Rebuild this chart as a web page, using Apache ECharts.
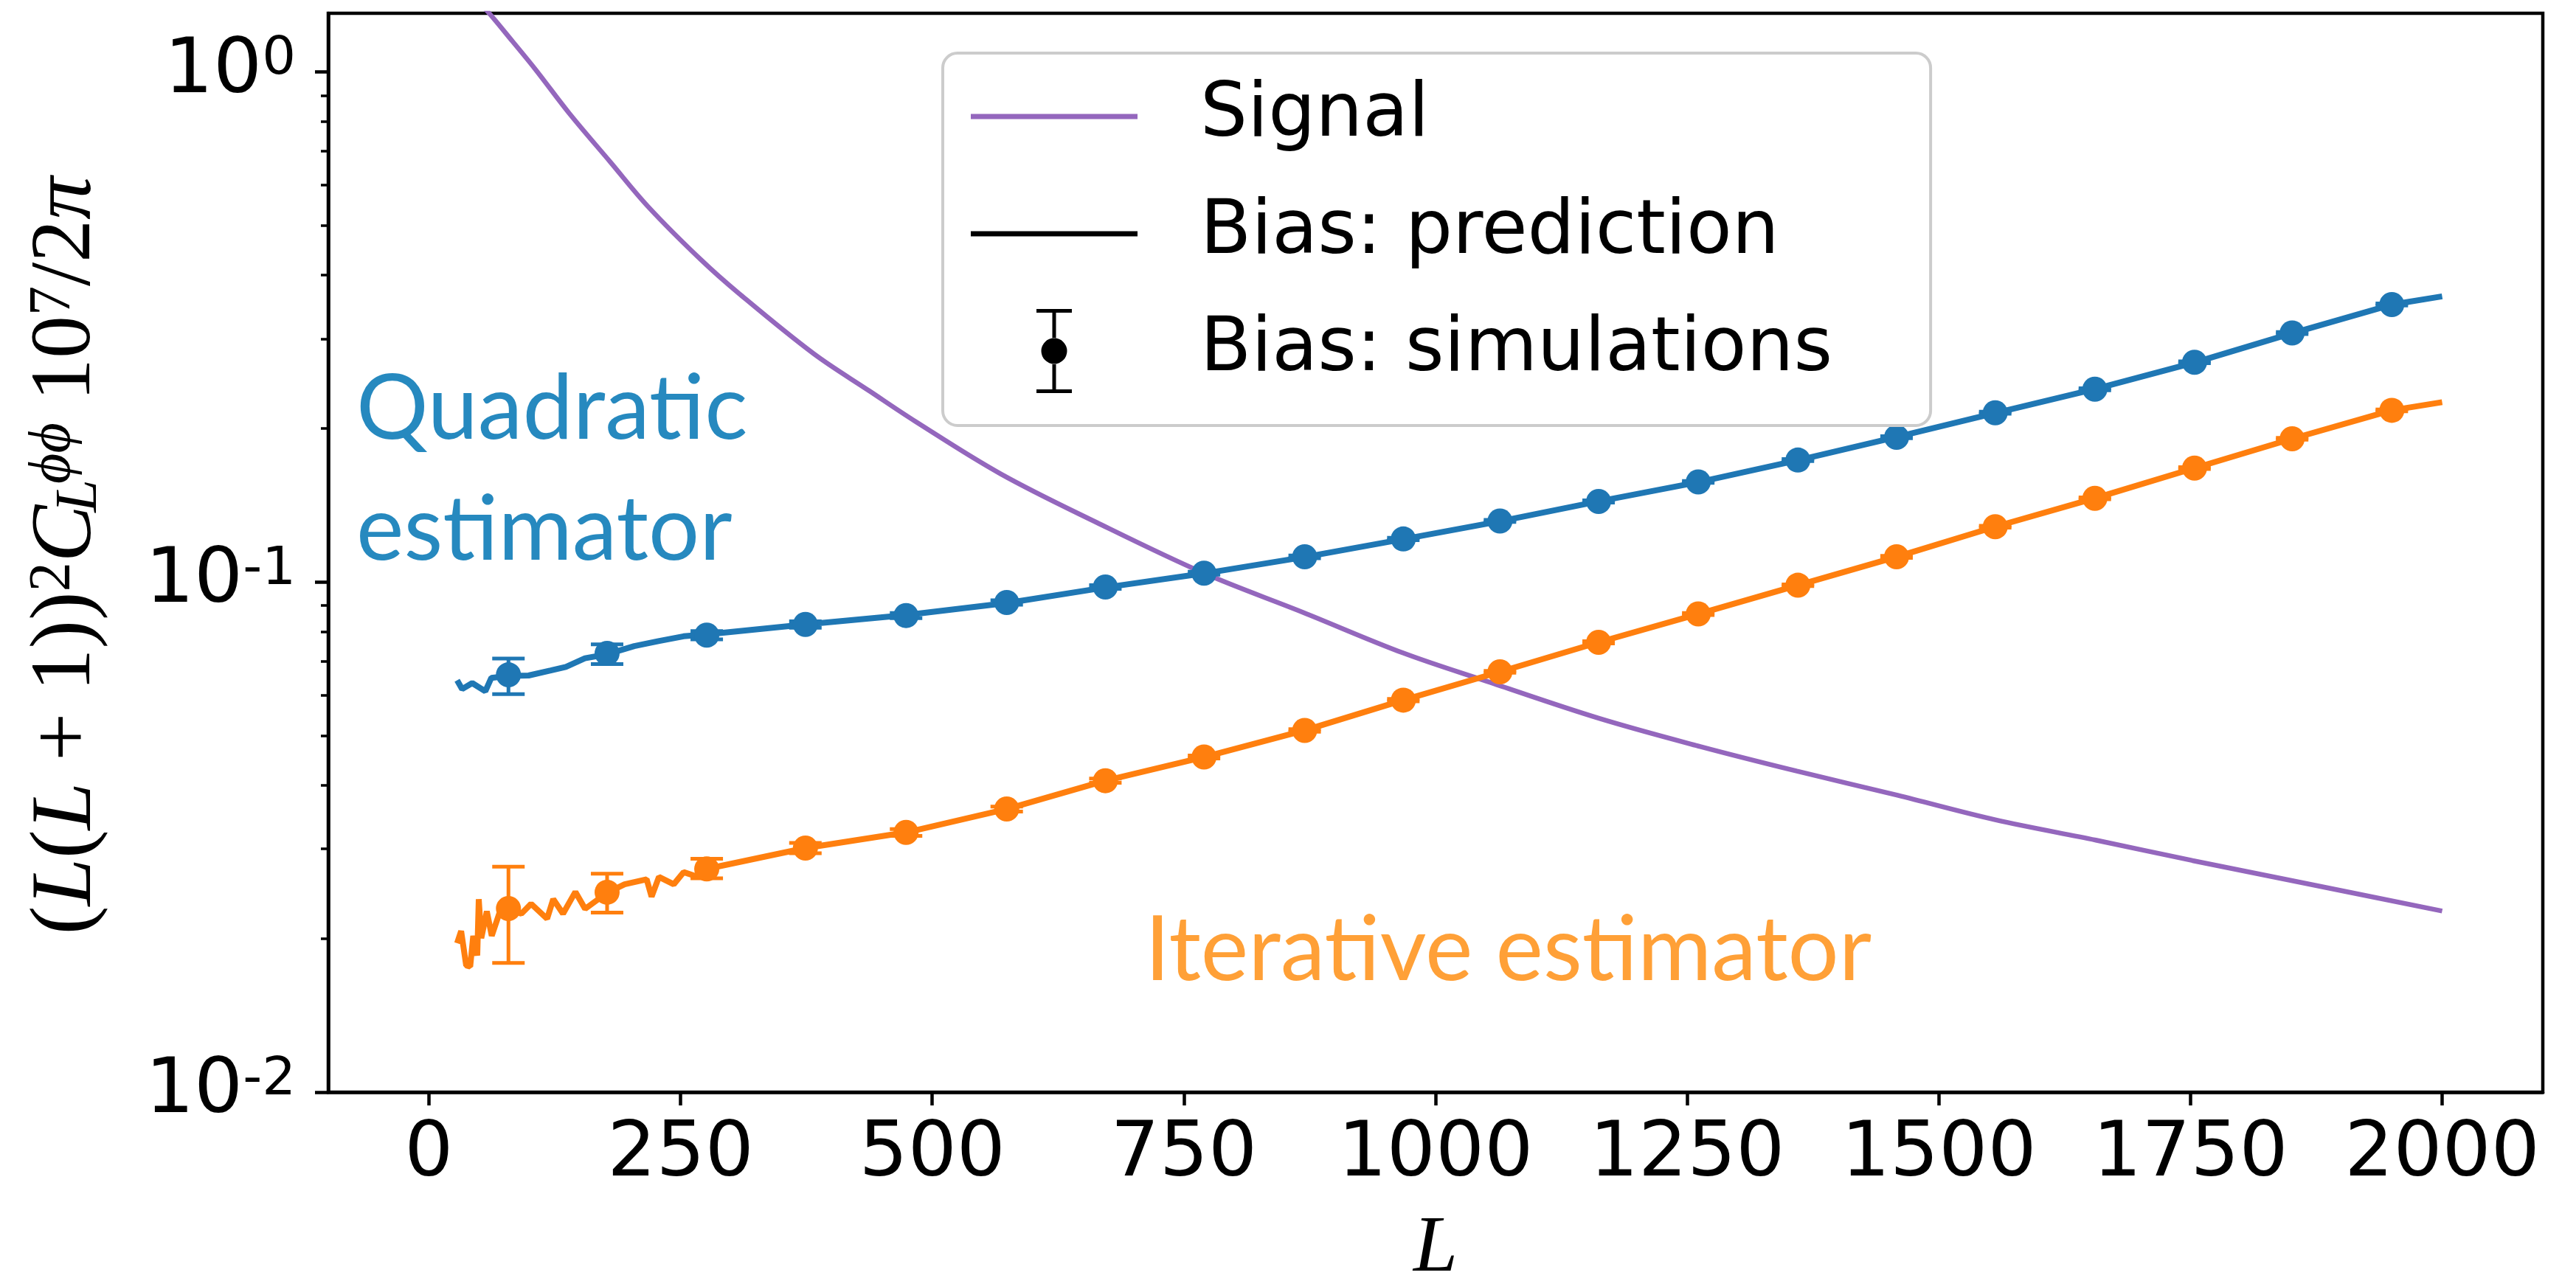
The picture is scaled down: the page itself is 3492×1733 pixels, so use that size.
<!DOCTYPE html>
<html>
<head>
<meta charset="utf-8">
<script src="https://cdn.jsdelivr.net/npm/echarts@6/dist/echarts.min.js"></script>
<style>
  html, body { margin: 0; padding: 0; background: #ffffff; }
  #chart { width: 3492px; height: 1733px; }
</style>
</head>
<body>
<div id="chart"></div>
<script>
// Lensing potential signal and reconstruction bias (quadratic vs iterative estimator)

// Signal: (L(L+1))^2 C_L^phiphi 1e7 / 2pi
const signalL = [45, 59, 83, 106, 139, 180, 218, 270, 308, 382, 438, 483, 568, 663, 770, 868, 968, 1051, 1162, 1263, 1359, 1459, 1556, 1656, 1752, 1852, 2000];
const signalV = [1.40, 1.31, 1.149, 1.011, 0.832, 0.667, 0.544, 0.429, 0.368, 0.2806, 0.2367, 0.2067, 0.163, 0.131, 0.1041, 0.0873, 0.0726, 0.0639, 0.0541, 0.0476, 0.0426, 0.0382, 0.0342, 0.0312, 0.02845, 0.02596, 0.02265];

// Predicted bias, quadratic estimator
const qePredL = [28, 33, 43, 56, 62, 79, 99, 121, 136, 155, 177, 204, 228, 253, 276, 374, 474, 574, 672, 770, 870, 968, 1064, 1162, 1261, 1360, 1458, 1556, 1655, 1754, 1851, 1950, 2000];
const qePredV = [0.0642, 0.0617, 0.0634, 0.0611, 0.0649, 0.0655, 0.0656, 0.0671, 0.0682, 0.0709, 0.0722, 0.0749, 0.0766, 0.0783, 0.0790, 0.0826, 0.0862, 0.0910, 0.0976, 0.1040, 0.1120, 0.1214, 0.1316, 0.1440, 0.1570, 0.1733, 0.1925, 0.2145, 0.2390, 0.2695, 0.3075, 0.3500, 0.3633];

// Predicted bias, iterative estimator
const itPredL = [28, 32, 37, 41, 44, 48, 49.5, 52, 57.5, 62.4, 69.8, 79.5, 91.8, 101.5, 117.4, 123.5, 133.2, 145.5, 155.2, 177, 194.4, 216.3, 221.2, 228.5, 243.2, 253, 267.6, 276, 374, 474, 574, 672, 770, 870, 968, 1064, 1162, 1261, 1360, 1458, 1556, 1655, 1754, 1851, 1950, 2000];
const itPredV = [0.01959, 0.0207, 0.01772, 0.01763, 0.02025, 0.01853, 0.0239, 0.02004, 0.02262, 0.02025, 0.02238, 0.0229, 0.02238, 0.0234, 0.02188, 0.0239, 0.02238, 0.0247, 0.02288, 0.0246, 0.02556, 0.02614, 0.02417, 0.02642, 0.02556, 0.0270, 0.02642, 0.0274, 0.0301, 0.0323, 0.0359, 0.0408, 0.0454, 0.0512, 0.0587, 0.0667, 0.0762, 0.0866, 0.0986, 0.1121, 0.1284, 0.1460, 0.1673, 0.1910, 0.2172, 0.2253];

// Bias measured on simulations (bin centres)
const simL = [79, 177, 276, 374, 474, 574, 672, 770, 870, 968, 1064, 1162, 1261, 1360, 1458, 1556, 1655, 1754, 1851, 1950];
const qeSim   = [0.0658, 0.0725, 0.0787, 0.0826, 0.0860, 0.0912, 0.0978, 0.1041, 0.1121, 0.1215, 0.1318, 0.1439, 0.1572, 0.1735, 0.1923, 0.2148, 0.2389, 0.2698, 0.3079, 0.3501];
const qeSimLo = [0.0603, 0.0691, 0.0772, 0.0814, 0.0850, 0.0903, 0.0970, 0.1034, 0.1114, 0.1208, 0.1312, 0.1432, 0.1565, 0.1727, 0.1914, 0.2138, 0.2378, 0.2686, 0.3065, 0.3485];
const qeSimHi = [0.0708, 0.0755, 0.0802, 0.0838, 0.0870, 0.0921, 0.0986, 0.1048, 0.1128, 0.1222, 0.1324, 0.1446, 0.1579, 0.1743, 0.1932, 0.2158, 0.2400, 0.2710, 0.3093, 0.3517];
const itSim   = [0.02291, 0.02466, 0.02739, 0.0301, 0.0323, 0.0359, 0.0408, 0.0454, 0.0512, 0.0587, 0.0667, 0.0762, 0.0866, 0.0986, 0.1121, 0.1284, 0.1460, 0.1673, 0.1910, 0.2172];
const itSimLo = [0.01792, 0.02250, 0.02625, 0.0294, 0.0318, 0.0355, 0.0404, 0.0451, 0.0509, 0.0584, 0.0664, 0.0758, 0.0862, 0.0982, 0.1116, 0.1279, 0.1454, 0.1666, 0.1902, 0.2163];
const itSimHi = [0.02768, 0.02681, 0.02868, 0.0308, 0.0328, 0.0363, 0.0412, 0.0457, 0.0515, 0.0590, 0.0670, 0.0766, 0.0870, 0.0990, 0.1126, 0.1289, 0.1466, 0.1680, 0.1918, 0.2181];

// Axis ticks
const xTicks = [0, 250, 500, 750, 1000, 1250, 1500, 1750, 2000];
const yMajorTicks = [0.01, 0.1, 1];
const yMinorTicks = [0.02, 0.03, 0.04, 0.05, 0.06, 0.07, 0.08, 0.09, 0.2, 0.3, 0.4, 0.5, 0.6, 0.7, 0.8, 0.9];

const C_SIGNAL = '#9467bd';
const C_QE = '#1f77b4';
const C_IT = '#ff7f0e';

function pairs(xs, ys) { return xs.map((x, i) => [x, ys[i]]); }
function triples(xs, lo, hi) { return xs.map((x, i) => [x, lo[i], hi[i]]); }

function errorBarRenderer(color) {
  return function (params, api) {
    const x = api.value(0);
    const pLo = api.coord([x, api.value(1)]);
    const pHi = api.coord([x, api.value(2)]);
    const half = 22;
    const style = { stroke: color, lineWidth: 5, fill: null, opacity: 1 };
    return {
      type: 'group',
      children: [
        { type: 'line', shape: { x1: pLo[0], y1: pLo[1], x2: pHi[0], y2: pHi[1] }, style: style },
        { type: 'line', shape: { x1: pLo[0] - half, y1: pLo[1], x2: pLo[0] + half, y2: pLo[1] }, style: style },
        { type: 'line', shape: { x1: pHi[0] - half, y1: pHi[1], x2: pHi[0] + half, y2: pHi[1] }, style: style }
      ]
    };
  };
}

const lineIcon = 'path://M0,0L0,0M0,53.5L226,53.5L226,60.5L0,60.5ZM306,114L306,114';
const errIcon = 'path://M0,57L0,57M89,0L137,0L137,5L89,5ZM110.5,5L115.5,5L115.5,40L110.5,40ZM110.5,74L115.5,74L115.5,109L110.5,109ZM89,109L137,109L137,114L89,114ZM95.5,57A17.5,17.5 0 1 0 130.5,57A17.5,17.5 0 1 0 95.5,57ZM306,114L306,114';

const axisLineStyle = { color: '#000', width: 4.5 };
const serif = 'Liberation Serif';

function mathStyle(size, italic, extra) {
  return Object.assign({
    fontFamily: serif, fontSize: size, fontStyle: italic ? 'italic' : 'normal',
    fontWeight: 'normal', color: '#000'
  }, extra || {});
}

const chart = echarts.init(document.getElementById('chart'), null, { renderer: 'canvas' });

chart.setOption({
  animation: false,
  backgroundColor: '#ffffff',
  grid: {
    left: 445, top: 18, right: 45, bottom: 252,
    containLabel: false,
    outerBoundsMode: 'none',
    show: true, borderColor: '#000', borderWidth: 4.5, backgroundColor: 'transparent'
  },
  xAxis: {
    type: 'value', min: -100, max: 2100, position: 'bottom',
    axisLine: { show: true, onZero: false, lineStyle: axisLineStyle },
    axisTick: { show: true, length: 18, lineStyle: { color: '#000', width: 4.5 }, customValues: xTicks },
    axisLabel: {
      customValues: xTicks, margin: 34, fontFamily: 'DejaVu Sans', fontSize: 104, fontWeight: 'normal', color: '#000',
      formatter: function (v) { return String(v); }
    },
    splitLine: { show: false },
    name: 'L', nameLocation: 'middle', nameGap: 160, nameMoveOverlap: false,
    nameTextStyle: mathStyle(108, true)
  },
  yAxis: [
    {
      type: 'log', logBase: 10, min: 0.01, max: 1.304, position: 'left',
      axisLine: { show: true, onZero: false, lineStyle: axisLineStyle },
      axisTick: { show: true, length: 18, lineStyle: { color: '#000', width: 4.5 }, customValues: yMajorTicks },
      axisLabel: {
        customValues: yMajorTicks, margin: 44, color: '#000',
        formatter: function (v) { return '{b|10}{s|' + Math.round(Math.log10(v)) + '}'; },
        rich: {
          b: { fontFamily: 'DejaVu Sans', fontSize: 104, lineHeight: 104, fontWeight: 'normal', color: '#000' },
          s: { fontFamily: 'DejaVu Sans', fontSize: 72, lineHeight: 42, verticalAlign: 'top', fontWeight: 'normal', color: '#000' }
        }
      },
      splitLine: { show: false },
      name: '{r|(}{i|L}{r|(}{i|L}{r| + 1))}{s|2}{i|C}{sl|L}{sp|ϕϕ}{r| 10}{s|7}{r|/2}{i|π}',
      nameLocation: 'middle', nameRotate: 90, nameGap: 296, nameMoveOverlap: false,
      nameTextStyle: {
        color: '#000', fontFamily: serif, fontSize: 116, fontWeight: 'normal', padding: [0, 8, 0, 0],
        rich: {
          r: mathStyle(116, false, { lineHeight: 116 }),
          i: mathStyle(116, true, { lineHeight: 116 }),
          s: mathStyle(80, false, { lineHeight: 60, verticalAlign: 'top' }),
          sl: mathStyle(80, true, { lineHeight: 38, verticalAlign: 'bottom', width: 1, padding: [0, 0, 0, 12] }),
          sp: mathStyle(80, true, { lineHeight: 36, verticalAlign: 'top', padding: [0, 0, 0, 16] })
        }
      }
    },
    {
      type: 'log', logBase: 10, min: 0.01, max: 1.304, position: 'left',
      axisLine: { show: false, onZero: false },
      axisTick: { show: true, length: 10, lineStyle: { color: '#000', width: 3.5 }, customValues: yMinorTicks },
      axisLabel: { show: false },
      splitLine: { show: false }
    }
  ],
  legend: {
    orient: 'vertical', left: 1278, top: 72,
    padding: [29, 133, 44, 38],
    itemWidth: 306, itemHeight: 114, itemGap: 45,
    backgroundColor: 'rgba(255,255,255,0.8)',
    borderColor: '#cccccc', borderWidth: 4, borderRadius: 20,
    selectedMode: false,
    itemStyle: { borderWidth: 0, opacity: 1 },
    textStyle: { fontFamily: 'DejaVu Sans', fontSize: 101, fontWeight: 'normal', color: '#000' },
    data: [
      { name: 'Signal', icon: lineIcon, itemStyle: { color: C_SIGNAL, borderWidth: 0, opacity: 1 } },
      { name: 'Bias: prediction', icon: lineIcon, itemStyle: { color: '#000', borderWidth: 0, opacity: 1 } },
      { name: 'Bias: simulations', icon: errIcon, itemStyle: { color: '#000', borderWidth: 0, opacity: 1 } }
    ],
    z: 20
  },
  graphic: [
    { type: 'text', x: 483, y: 556, z: 15, style: { text: 'Quadratic', fill: '#2689bf', fontFamily: 'Lato', fontSize: 122, verticalAlign: 'middle', align: 'left' } },
    { type: 'text', x: 483, y: 720, z: 15, style: { text: 'estimator', fill: '#2689bf', fontFamily: 'Lato', fontSize: 122, verticalAlign: 'middle', align: 'left' } },
    { type: 'text', x: 1552, y: 1290, z: 15, style: { text: 'Iterative estimator', fill: '#ffa037', fontFamily: 'Lato', fontSize: 122, verticalAlign: 'middle', align: 'left' } }
  ],
  series: [
    {
      name: 'Signal', type: 'line', data: pairs(signalL, signalV),
      symbol: 'none', showSymbol: false, smooth: 0.35,
      lineStyle: { color: C_SIGNAL, width: 6.5 }, itemStyle: { color: C_SIGNAL },
      clip: true, z: 2
    },
    {
      name: 'Quadratic prediction', type: 'line', data: pairs(qePredL, qePredV),
      symbol: 'none', showSymbol: false,
      lineStyle: { color: C_QE, width: 8 }, itemStyle: { color: C_QE },
      clip: true, z: 3
    },
    {
      name: 'Iterative prediction', type: 'line', data: pairs(itPredL, itPredV),
      symbol: 'none', showSymbol: false,
      lineStyle: { color: C_IT, width: 8 }, itemStyle: { color: C_IT },
      clip: true, z: 3
    },
    {
      name: 'Quadratic error', type: 'custom', data: triples(simL, qeSimLo, qeSimHi),
      encode: { x: 0, y: [1, 2] }, renderItem: errorBarRenderer(C_QE), z: 4
    },
    {
      name: 'Iterative error', type: 'custom', data: triples(simL, itSimLo, itSimHi),
      encode: { x: 0, y: [1, 2] }, renderItem: errorBarRenderer(C_IT), z: 4
    },
    {
      name: 'Quadratic simulations', type: 'scatter', data: pairs(simL, qeSim),
      symbol: 'circle', symbolSize: 34, itemStyle: { color: C_QE, opacity: 1 }, z: 5
    },
    {
      name: 'Iterative simulations', type: 'scatter', data: pairs(simL, itSim),
      symbol: 'circle', symbolSize: 34, itemStyle: { color: C_IT, opacity: 1 }, z: 5
    },
    // legend-only entries
    { name: 'Bias: prediction', type: 'line', data: [], symbol: 'none', lineStyle: { color: '#000', width: 7 }, itemStyle: { color: '#000', opacity: 1 } },
    { name: 'Bias: simulations', type: 'scatter', data: [], itemStyle: { color: '#000', opacity: 1 } }
  ]
});
</script>
</body>
</html>
